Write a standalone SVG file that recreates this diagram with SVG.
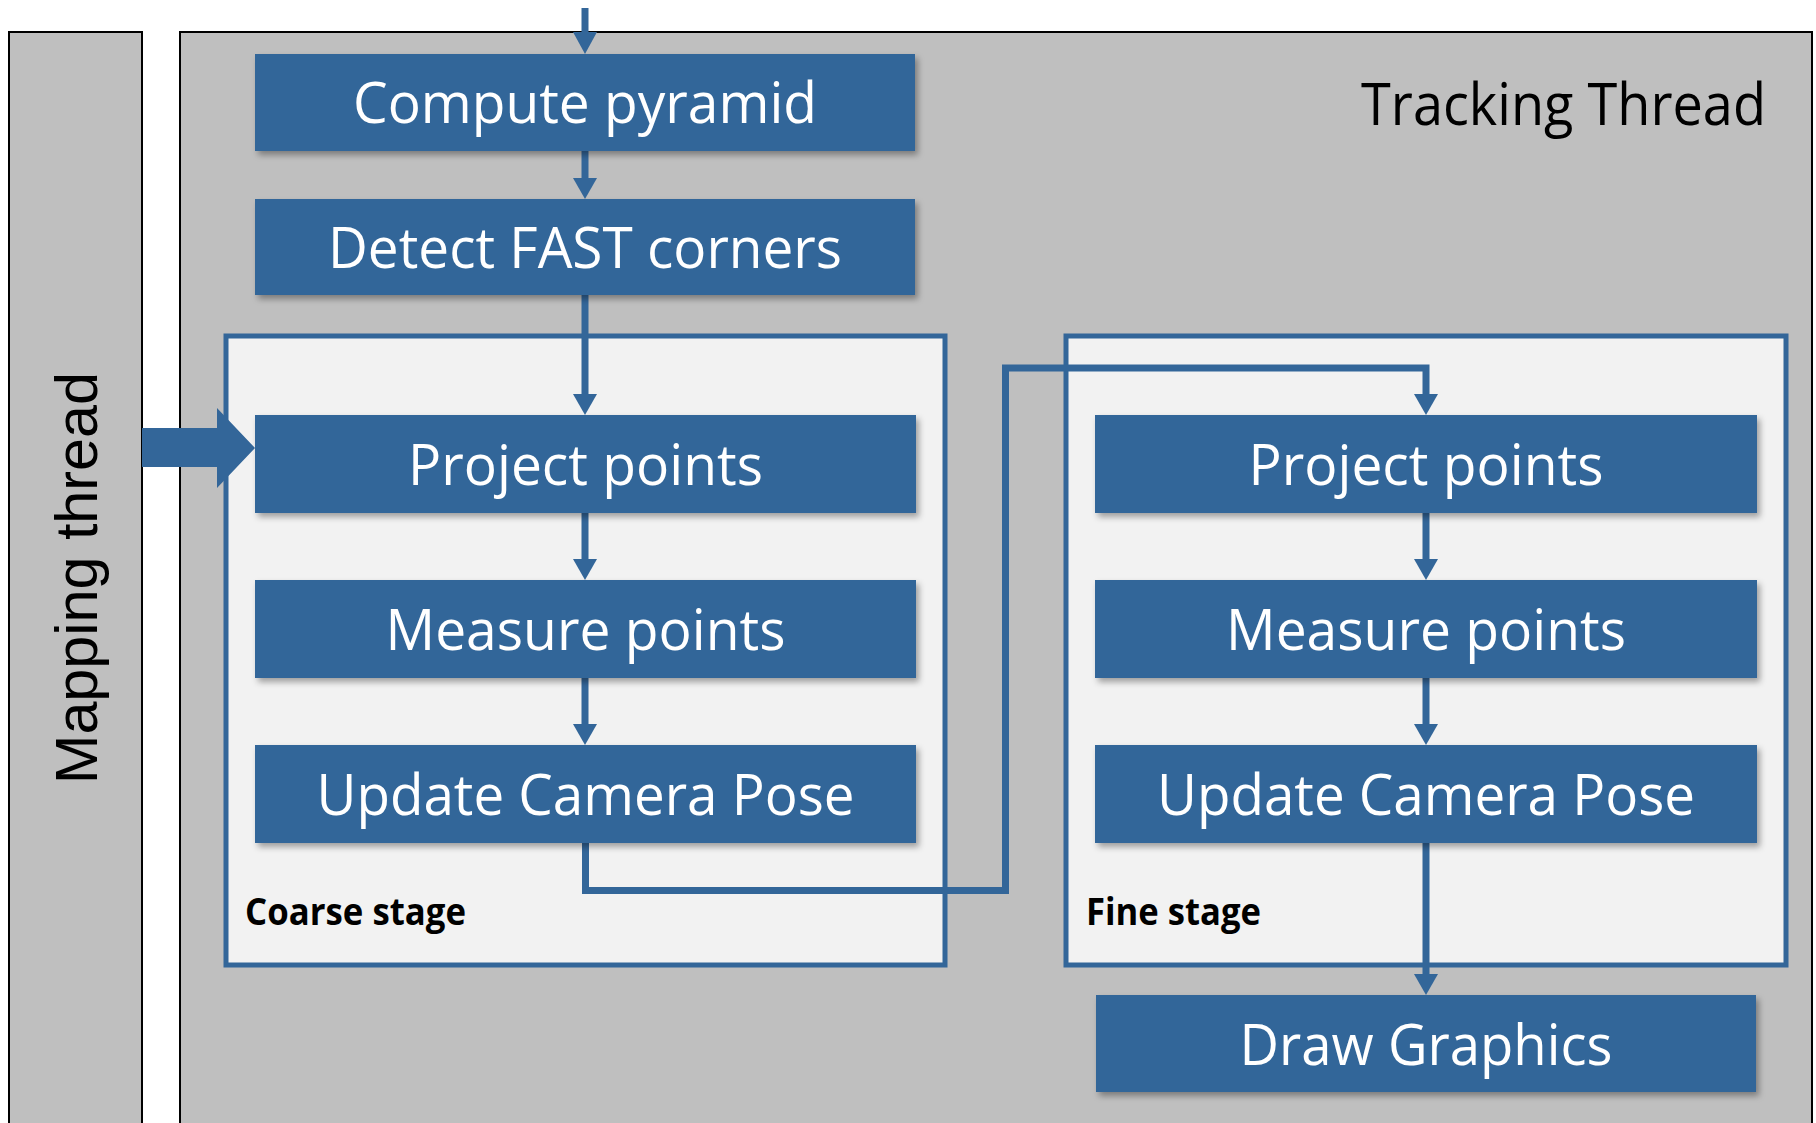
<svg xmlns="http://www.w3.org/2000/svg" width="1816" height="1123" viewBox="0 0 1816 1123">
<style>
.panel{fill:#BFBFBF;stroke:#000;stroke-width:2}
.stage{fill:#F2F2F2;stroke:#336699;stroke-width:5}
.box{fill:#336699}
.bt{font-family:"Open Sans","Liberation Sans",sans-serif;font-size:57px;fill:#fff;text-anchor:middle}
.lbl{font-family:"Open Sans","Liberation Sans",sans-serif;font-size:38px;font-weight:bold;fill:#000}
.conn{fill:none;stroke:#336699;stroke-width:7;stroke-linejoin:miter}
.head{fill:#336699}
</style>
<defs>
<filter id="sh" x="-5%" y="-10%" width="115%" height="130%">
<feDropShadow dx="3" dy="4" stdDeviation="3" flood-color="#000" flood-opacity="0.35"/>
</filter>
</defs>
<rect width="1816" height="1123" fill="#fff"/>
<g id="mapping-thread">
<rect class="panel" x="9" y="32" width="133" height="1100"/>
<text transform="translate(97,578) rotate(-90)" x="0" y="0" font-family="'Liberation Sans',Arial,sans-serif" font-size="59" text-anchor="middle" textLength="412" lengthAdjust="spacingAndGlyphs">Mapping thread</text>
</g>
<g id="tracking-thread">
<rect class="panel" x="180" y="32" width="1632" height="1100"/>
<text x="1361" y="125" font-family="'Open Sans','Liberation Sans',sans-serif" font-size="59" textLength="405" lengthAdjust="spacingAndGlyphs">Tracking Thread</text>
</g>
<g id="coarse-stage">
<rect class="stage" x="226" y="336" width="719" height="629"/>
<text class="lbl" x="245" y="925" textLength="221" lengthAdjust="spacingAndGlyphs">Coarse stage</text>
</g>
<g id="fine-stage">
<rect class="stage" x="1066" y="336" width="720" height="629"/>
<text class="lbl" x="1086" y="925" textLength="175" lengthAdjust="spacingAndGlyphs">Fine stage</text>
</g>
<g id="connectors">
<line class="conn" x1="585" y1="8" x2="585" y2="34"/>
<polygon class="head" points="573,32 597,32 585,54"/>
<line class="conn" x1="585" y1="151" x2="585" y2="180"/>
<polygon class="head" points="573,178 597,178 585,199"/>
<line class="conn" x1="585" y1="295" x2="585" y2="396"/>
<polygon class="head" points="573,394 597,394 585,415"/>
<line class="conn" x1="585" y1="513" x2="585" y2="561"/>
<polygon class="head" points="573,559 597,559 585,580"/>
<line class="conn" x1="585" y1="678" x2="585" y2="726"/>
<polygon class="head" points="573,724 597,724 585,745"/>
<polyline class="conn" points="585.5,843 585.5,890.5 1005.5,890.5 1005.5,368 1426,368 1426,396"/>
<polygon class="head" points="1414,394 1438,394 1426,415"/>
<line class="conn" x1="1426" y1="513" x2="1426" y2="561"/>
<polygon class="head" points="1414,559 1438,559 1426,580"/>
<line class="conn" x1="1426" y1="678" x2="1426" y2="726"/>
<polygon class="head" points="1414,724 1438,724 1426,745"/>
<line class="conn" x1="1426" y1="843" x2="1426" y2="976"/>
<polygon class="head" points="1414,974 1438,974 1426,995"/>
<polygon class="head" points="142,428 217,428 217,408 255,448 217,488 217,467 142,467"/>
</g>
<g id="compute-pyramid">
<rect class="box" x="255" y="54" width="660" height="97" filter="url(#sh)"/>
<text class="bt" x="585" y="123" textLength="464" lengthAdjust="spacingAndGlyphs">Compute pyramid</text>
</g>
<g id="detect-fast">
<rect class="box" x="255" y="199" width="660" height="96" filter="url(#sh)"/>
<text class="bt" x="585" y="268" textLength="514" lengthAdjust="spacingAndGlyphs">Detect FAST corners</text>
</g>
<g id="coarse-project">
<rect class="box" x="255" y="415" width="661" height="98" filter="url(#sh)"/>
<text class="bt" x="585.5" y="485" textLength="355" lengthAdjust="spacingAndGlyphs">Project points</text>
</g>
<g id="coarse-measure">
<rect class="box" x="255" y="580" width="661" height="98" filter="url(#sh)"/>
<text class="bt" x="585.5" y="650" textLength="400" lengthAdjust="spacingAndGlyphs">Measure points</text>
</g>
<g id="coarse-update">
<rect class="box" x="255" y="745" width="661" height="98" filter="url(#sh)"/>
<text class="bt" x="585.5" y="815" textLength="538" lengthAdjust="spacingAndGlyphs">Update Camera Pose</text>
</g>
<g id="fine-project">
<rect class="box" x="1095" y="415" width="662" height="98" filter="url(#sh)"/>
<text class="bt" x="1426" y="485" textLength="355" lengthAdjust="spacingAndGlyphs">Project points</text>
</g>
<g id="fine-measure">
<rect class="box" x="1095" y="580" width="662" height="98" filter="url(#sh)"/>
<text class="bt" x="1426" y="650" textLength="400" lengthAdjust="spacingAndGlyphs">Measure points</text>
</g>
<g id="fine-update">
<rect class="box" x="1095" y="745" width="662" height="98" filter="url(#sh)"/>
<text class="bt" x="1426" y="815" textLength="538" lengthAdjust="spacingAndGlyphs">Update Camera Pose</text>
</g>
<g id="draw-graphics">
<rect class="box" x="1096" y="995" width="660" height="97" filter="url(#sh)"/>
<text class="bt" x="1426" y="1065" textLength="373" lengthAdjust="spacingAndGlyphs">Draw Graphics</text>
</g>
</svg>
